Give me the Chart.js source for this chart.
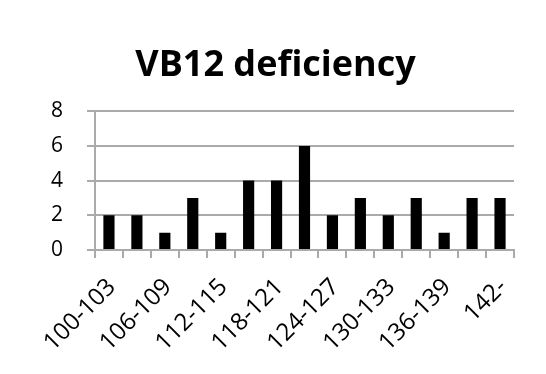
<!DOCTYPE html>
<html lang="en">
<head>
  <meta charset="UTF-8">
  <title>VB12 deficiency</title>
  <script src="https://cdn.jsdelivr.net/npm/chart.js"></script>
  <style>
    html, body { margin: 0; padding: 0; background: #fff; }
    #wrap { width: 546px; height: 374px; }
  </style>
</head>
<body>
<div id="wrap"><canvas id="chart" width="546" height="374"></canvas></div>

<script>
    const categories = ['100-103', '103-106', '106-109', '109-112', '112-115', '115-118', '118-121',
        '121-124', '124-127', '127-130', '130-133', '133-136', '136-139', '139-142', '142-'];
    const counts = [2, 2, 1, 3, 1, 4, 4, 6, 2, 3, 2, 3, 1, 3, 3];
    const yTicks = [0, 2, 4, 6, 8];

    const font = "'Open Sans', 'DejaVu Sans', sans-serif";

    new Chart(document.getElementById('chart'), {
        type: 'bar',
        data: {
            labels: categories,
            datasets: [{
                label: 'VB12 deficiency',
                data: counts,
                backgroundColor: '#000',
                borderWidth: 0,
                categoryPercentage: 1,
                barPercentage: 0.4
            }]
        },
        options: {
            responsive: false,
            animation: false,
            layout: { padding: { left: 37, right: 32, top: 0, bottom: 0 } },
            plugins: {
                legend: { display: false },
                tooltip: { enabled: false },
                title: {
                    display: true,
                    text: 'VB12 deficiency',
                    color: '#000',
                    font: { family: font, size: 36, weight: 'bold' },
                    padding: { top: 44, bottom: 24 }
                }
            },
            scales: {
                x: {
                    offset: true,
                    afterFit: function (s) { s.height = 124; },
                    grid: { drawOnChartArea: false, color: '#aaa', lineWidth: 2, tickLength: 8, offset: true },
                    border: { color: '#aaa', width: 2 },
                    ticks: {
                        autoSkip: false,
                        minRotation: 45,
                        maxRotation: 45,
                        color: '#000',
                        padding: 15,
                        labelOffset: 3,
                        font: { family: font, size: 24 },
                        callback: function (v, i) { return i % 2 === 0 ? categories[i] : ''; }
                    }
                },
                y: {
                    min: 0,
                    max: 8,
                    afterFit: function (s) { s.width = 58; },
                    afterBuildTicks: function (axis) { axis.ticks = yTicks.map(v => ({ value: v })); },
                    grid: { color: '#aaa', lineWidth: 2, tickLength: 8 },
                    border: { color: '#aaa', width: 2 },
                    ticks: {
                        color: '#000',
                        padding: 24,
                        font: { family: font, size: 21 }
                    }
                }
            }
        }
    });
</script>
</body>
</html>
